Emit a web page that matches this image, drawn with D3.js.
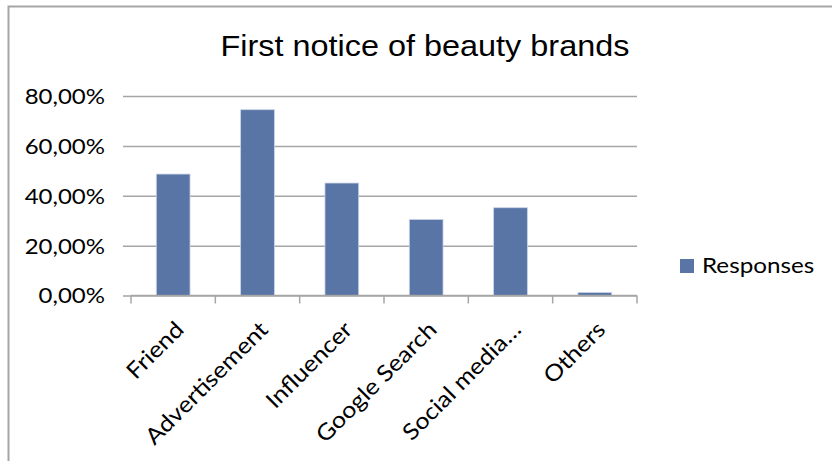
<!DOCTYPE html>
<html>
<head>
<meta charset="utf-8">
<script src="https://cdn.jsdelivr.net/npm/d3@7"></script>
<style>
  html, body { margin: 0; padding: 0; background: #fff; }
  svg { display: block; }
</style>
</head>
<body>
<svg id="chart" width="832" height="461"></svg>
<script>
// Share of respondents by where they first noticed a beauty brand
const categories = ["Friend", "Advertisement", "Influencer", "Google Search", "Social media…", "Others"];
const responses = [0.487, 0.745, 0.451, 0.305, 0.352, 0.012];
const yTicks = [0, 0.2, 0.4, 0.6, 0.8];
const titleText = "First notice of beauty brands";
const seriesName = "Responses";

const W = 832, H = 461;
const plot = { left: 131, right: 637, top: 96, bottom: 295.5 };
const barColor = "#5875a6";
const lineColor = "#a6a6a6";
const labelFont = "Lato, 'Open Sans', sans-serif";

const svg = d3.select("#chart");

// widen text glyphs horizontally by a factor (wide label face)
function widen(sel, factor) {
  sel.each(function () {
    const len = this.getComputedTextLength();
    d3.select(this).attr("textLength", len * factor).attr("lengthAdjust", "spacingAndGlyphs");
  });
}

// chart frame
svg.append("rect")
  .attr("x", 8.5).attr("y", 6.5)
  .attr("width", W + 10).attr("height", H + 10)
  .attr("fill", "none").attr("stroke", lineColor).attr("stroke-width", 2);

const x = d3.scaleBand().domain(categories).range([plot.left, plot.right])
  .paddingInner(0.6).paddingOuter(0.3);
const xEdges = d3.scaleLinear().domain([0, categories.length]).range([plot.left, plot.right]);
const y = d3.scaleLinear().domain([0, 0.8]).range([plot.bottom, plot.top]);

const pct = v => d3.format(".2f")(v * 100).replace(".", ",") + "%";

// horizontal gridlines with left tick marks and labels
const yAxis = d3.axisLeft(y).tickValues(yTicks).tickFormat(pct)
  .tickSize(-(plot.right - plot.left)).tickPadding(26);
const gy = svg.append("g").attr("transform", `translate(${plot.left},0)`).call(yAxis);
gy.select(".domain").remove();
gy.selectAll(".tick line")
  .attr("x1", -8)
  .attr("stroke", lineColor).attr("stroke-width", 1.5);
gy.selectAll(".tick text")
  .attr("font-family", labelFont).attr("font-size", 20.5)
  .attr("fill", "#000").attr("dy", "0.36em")
  .call(widen, 1.17);

// bars
svg.append("g").selectAll("rect")
  .data(responses)
  .join("rect")
  .attr("x", (d, i) => x(categories[i]))
  .attr("width", x.bandwidth())
  .attr("y", d => y(d))
  .attr("height", d => y(0) - y(d))
  .attr("fill", barColor)
  .attr("stroke", "#c9d3e6").attr("stroke-width", 0.8);

// category axis: baseline, boundary ticks and rotated labels
const gx = svg.append("g");
gx.append("line")
  .attr("x1", plot.left).attr("x2", plot.right)
  .attr("y1", y(0)).attr("y2", y(0))
  .attr("stroke", lineColor).attr("stroke-width", 1.5);
gx.selectAll("line.edge")
  .data(d3.range(categories.length + 1))
  .join("line").attr("class", "edge")
  .attr("x1", i => xEdges(i)).attr("x2", i => xEdges(i))
  .attr("y1", y(0)).attr("y2", y(0) + 8)
  .attr("stroke", lineColor).attr("stroke-width", 1.5);
gx.selectAll("text")
  .data(categories)
  .join("text")
  .attr("transform", d => `translate(${x(d) + x.bandwidth() / 2 + 12},331) rotate(-45)`)
  .attr("text-anchor", "end")
  .attr("font-family", labelFont).attr("font-size", 22.5)
  .attr("fill", "#000")
  .text(d => d)
  .call(widen, 1.12);

// title
svg.append("text")
  .attr("x", 425).attr("y", 56)
  .attr("text-anchor", "middle")
  .attr("font-family", "'Liberation Sans', Arial, sans-serif")
  .attr("font-size", 30)
  .attr("fill", "#000")
  .text(titleText)
  .call(widen, 1.08);

// legend
const lg = svg.append("g").attr("transform", "translate(680,259)");
lg.append("rect").attr("width", 14).attr("height", 14).attr("fill", barColor);
lg.append("text")
  .attr("x", 22).attr("y", 14)
  .attr("font-family", labelFont).attr("font-size", 22)
  .attr("fill", "#000")
  .text(seriesName)
  .call(widen, 1.1);
</script>
</body>
</html>
